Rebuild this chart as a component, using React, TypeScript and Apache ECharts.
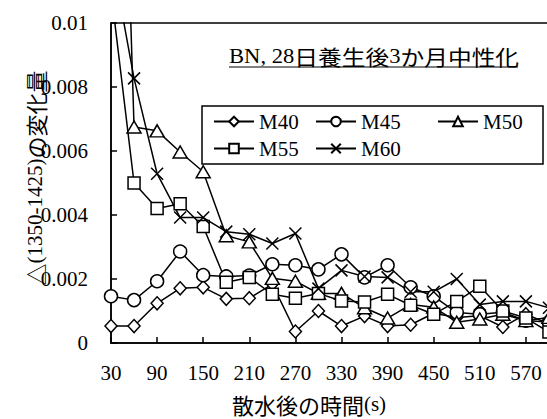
import React, { useEffect, useRef } from "react";
import * as echarts from "echarts";

const times = [30, 60, 90, 120, 150, 180, 210, 240, 270, 300, 330, 360, 390, 420, 450, 480, 510, 540, 570, 600];
const m40 = [0.00053, 0.00053, 0.00124, 0.00171, 0.00174, 0.00138, 0.0014, 0.00184, 0.00036, 0.001, 0.00053, 0.00084, 0.00053, 0.00057, 0.00093, 0.0008, 0.00085, 0.0005, 0.0009, 0.0006];
const m45 = [0.00146, 0.00134, 0.00193, 0.00286, 0.00212, 0.00208, 0.00211, 0.00246, 0.00243, 0.0023, 0.00277, 0.00205, 0.00243, 0.00174, 0.00146, 0.00095, 0.0009, 0.00096, 0.0007, 0.00065];
const m50 = [0.03, 0.00675, 0.00663, 0.00597, 0.00535, 0.00335, 0.00316, 0.00202, 0.00193, 0.00155, 0.00155, 0.0011, 0.00078, 0.0012, 0.00112, 0.00065, 0.00075, 0.0009, 0.0007, 0.0008];
const m55 = [0.011, 0.005, 0.0042, 0.00435, 0.00364, 0.0019, 0.00205, 0.00152, 0.0014, 0.00155, 0.00131, 0.00128, 0.00152, 0.00118, 0.0009, 0.0013, 0.00177, 0.001, 0.00078, 0.00034];
const m60 = [0.0122, 0.00827, 0.00529, 0.00392, 0.00392, 0.00348, 0.0034, 0.00311, 0.00342, 0.0017, 0.00227, 0.00208, 0.00205, 0.0016, 0.0016, 0.002, 0.0012, 0.0013, 0.0013, 0.0011];

const seriesNames = ["M40", "M45", "M50", "M55", "M60"];
const seriesValues = [m40, m45, m50, m55, m60];
const titleText = "BN, 28{c|日養生後}3{c|か月中性化}";
const xTitle = "{c|散水後の時間}(s)";
const yTitle = "{c|△}(1350-1425){c|の変化量}";

const LATIN = "'Liberation Serif', 'Times New Roman', serif";
const CJKF = "'Noto Sans CJK JP', sans-serif";

const symbols = [
  { symbol: "diamond", size: [12, 13] },
  { symbol: "circle", size: 13 },
  { symbol: "triangle", size: [14, 12] },
  { symbol: "rect", size: 12 },
  { symbol: "path://M0,0L10,10M10,0L0,10", size: 12 },
];

const legendPos = [
  { left: 213, top: 111 },
  { left: 315, top: 111 },
  { left: 437, top: 111 },
  { left: 213, top: 138 },
  { left: 315, top: 138 },
];

export default function App() {
  const ref = useRef<HTMLDivElement>(null);
  useEffect(() => {
    const chart = echarts.init(ref.current!, null, { renderer: "svg" });
    const option: any = {
      animation: false,
      backgroundColor: "#fff",
      grid: {
        left: 111,
        top: 23,
        bottom: 76,
        right: 0,
        show: true,
        borderColor: "#000",
        borderWidth: 1.5,
      },
      xAxis: {
        type: "value",
        min: 30,
        max: 630,
        interval: 60,
        axisLine: { show: true, lineStyle: { color: "#000", width: 1.5 } },
        axisTick: { show: true, inside: true, length: 6, lineStyle: { color: "#000", width: 1.5 } },
        splitLine: { show: false },
        axisLabel: { color: "#000", fontFamily: LATIN, fontSize: 21, margin: 19, showMaxLabel: false },
      },
      yAxis: {
        type: "value",
        min: 0,
        max: 0.01,
        interval: 0.002,
        axisLine: { show: true, lineStyle: { color: "#000", width: 1.5 } },
        axisTick: { show: true, inside: true, length: 6, lineStyle: { color: "#000", width: 1.5 } },
        splitLine: { show: false },
        axisLabel: {
          color: "#000",
          fontFamily: LATIN,
          fontSize: 21,
          margin: 23,
          formatter: (v: number) => String(+v.toFixed(3)),
        },
      },
      legend: seriesNames.map((n, i) => ({
        data: [n],
        left: legendPos[i].left,
        top: legendPos[i].top,
        padding: 0,
        itemWidth: 40,
        itemHeight: 12,
        itemGap: 0,
        selectedMode: false,
        z: 10,
        textStyle: { color: "#000", fontFamily: LATIN, fontSize: 21, lineHeight: 21 },
      })),
      graphic: [
        {
          type: "rect",
          z: 5,
          shape: { x: 202, y: 106, width: 341, height: 58 },
          style: { fill: "#fff", stroke: "#000", lineWidth: 1.5 },
        },
        {
          type: "text",
          z: 10,
          x: 229,
          y: 56,
          scaleX: 1.13,
          style: {
            text: titleText,
            fontFamily: LATIN,
            fontSize: 20,
            lineHeight: 22,
            fill: "#000",
            textAlign: "left",
            textVerticalAlign: "middle",
            rich: { c: { fontFamily: CJKF, fontSize: 21, lineHeight: 22, fill: "#000" } },
          },
        },
        {
          type: "line",
          z: 10,
          shape: { x1: 229, y1: 67, x2: 518, y2: 67 },
          style: { stroke: "#000", lineWidth: 1.2 },
        },
        {
          type: "text",
          x: 309,
          y: 404,
          style: {
            text: xTitle,
            fontFamily: LATIN,
            fontSize: 21,
            lineHeight: 22,
            fill: "#000",
            textAlign: "center",
            textVerticalAlign: "middle",
            rich: { c: { fontFamily: CJKF, fontSize: 22, lineHeight: 22, fill: "#000" } },
          },
        },
        {
          type: "text",
          x: 35,
          y: 178,
          rotation: Math.PI / 2,
          style: {
            text: yTitle,
            fontFamily: LATIN,
            fontSize: 21,
            lineHeight: 22,
            fill: "#000",
            textAlign: "center",
            textVerticalAlign: "middle",
            rich: { c: { fontFamily: CJKF, fontSize: 22, lineHeight: 22, fill: "#000" } },
          },
        },
      ],
      series: seriesNames.map((n, i) => ({
        name: n,
        type: "line",
        data: times.map((t, j) => [t, seriesValues[i][j]]),
        symbol: symbols[i].symbol,
        symbolSize: symbols[i].size,
        showSymbol: true,
        clip: true,
        lineStyle: { color: "#000", width: 1.5 },
        itemStyle: { color: "#fff", borderColor: "#000", borderWidth: 1.5 },
        emphasis: { disabled: true },
      })),
    };
    chart.setOption(option);
    return () => chart.dispose();
  }, []);
  return (
    <div style={{ position: "absolute", left: 0, top: 0, width: 547, height: 419, overflow: "hidden" }}>
      <div ref={ref} style={{ width: 572, height: 419 }} />
    </div>
  );
}
